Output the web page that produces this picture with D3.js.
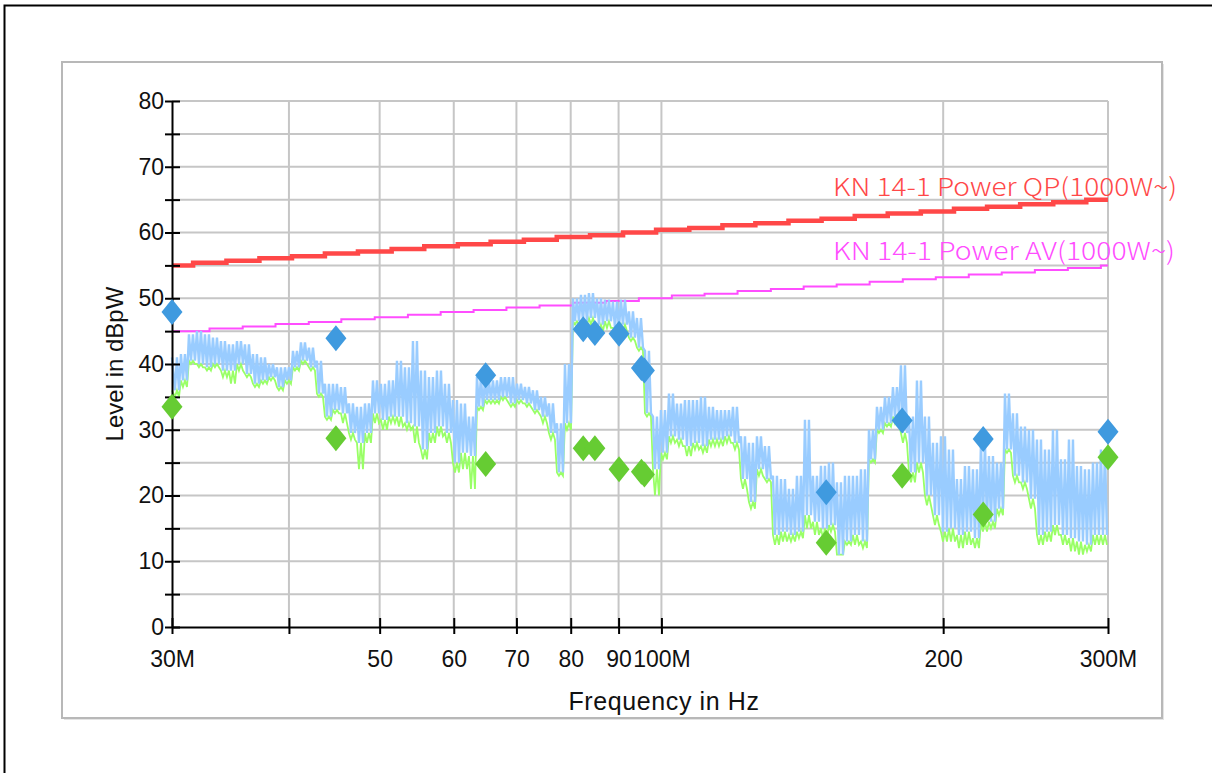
<!DOCTYPE html>
<html>
<head>
<meta charset="utf-8">
<script src="https://cdn.jsdelivr.net/npm/d3@7"></script>
<style>
body { margin: 0; background: #fff; }
svg { display: block; }
</style>
</head>
<body>
<div id="grafica"></div>
<script>
// axis ticks
const xTicks = [30, 40, 50, 60, 70, 80, 90, 100, 200, 300]
const xTickLabels = ['30M', '', '50', '60', '70', '80', '90', '100M', '200', '300M']
const yTicks = [0, 5, 10, 15, 20, 25, 30, 35, 40, 45, 50, 55, 60, 65, 70, 75, 80]

// limit lines (stairs), MHz / dBpW
const qpFreq = [30, 31.6, 34.3, 37.2, 40.3, 43.7, 47.4, 51.5, 55.8, 60.6, 65.7, 71.3, 77.3, 83.9, 91.0,
    98.7, 107.1, 116.2, 126.0, 136.7, 148.3, 160.9, 174.5, 189.3, 205.4, 222.8, 241.7, 262.2, 284.4]
const qpLimit = [55, 55.4, 55.7, 56.1, 56.4, 56.8, 57.1, 57.5, 57.9, 58.2, 58.6, 58.9, 59.3, 59.6, 60,
    60.4, 60.7, 61.1, 61.4, 61.8, 62.1, 62.5, 62.9, 63.2, 63.6, 63.9, 64.3, 64.6, 65]
const avFreq = [30, 32.9, 35.7, 38.7, 42.0, 45.5, 49.4, 53.6, 58.1, 63.0, 68.3, 74.1, 80.4, 87.2, 94.6,
    102.6, 111.2, 120.6, 130.9, 141.9, 153.9, 166.9, 181.1, 196.4, 213.0, 231.0, 250.6, 271.8, 294.8]
const avLimit = [45, 45.4, 45.7, 46.1, 46.4, 46.8, 47.1, 47.5, 47.9, 48.2, 48.6, 48.9, 49.3, 49.6, 50,
    50.4, 50.7, 51.1, 51.4, 51.8, 52.1, 52.5, 52.9, 53.2, 53.6, 53.9, 54.3, 54.6, 55]

// sweep 30M..300M, one max/min pair per bin (bins of equal log width)
const blueHi = [
    41, 41.5, 44.5, 45, 44.5, 44, 43.5, 43, 43.5, 43,
    41.5, 41, 40, 39.5, 39.5, 42, 43.3, 42.5, 40.5, 37,
    37, 36.5, 34, 33.5, 34, 37.5, 37, 37.5, 40.5, 39.5,
    43.5, 39, 38, 39, 37, 34.5, 34, 32, 38, 37.5,
    37.5, 38, 38, 37, 36.5, 36, 35, 34, 31, 40,
    50, 50.5, 50.8, 50, 49.8, 49.5, 49.8, 48, 47, 42,
    32, 33, 35.5, 34, 34.5, 34.5, 35, 33.5, 33, 33,
    33.5, 29, 28, 29, 27.5, 23, 22.5, 21, 23, 31.5,
    23, 24.5, 25, 22, 23, 23, 24, 30, 33.5, 35,
    36.5, 39.8, 32, 37.5, 32, 28, 29, 27, 22.5, 24.5,
    24, 28, 26, 25, 35.5, 32.5, 30.5, 30, 28.5, 27,
    30, 25.5, 28.5, 24.5, 24, 25, 27]
const blueLo = [
    36, 37.5, 40.5, 40, 39.5, 40, 39, 39, 40, 38.5,
    37, 37.5, 38, 36.5, 37.5, 39.5, 40.5, 39.5, 35.5, 32,
    33, 32.5, 29.5, 28, 29.5, 32.5, 31.5, 32, 32, 31,
    30.5, 27, 29.5, 30.5, 29.5, 25, 26.5, 26, 33.5, 34.5,
    34.5, 35, 34, 34.5, 34, 33, 32, 29.5, 23.5, 31,
    46.5, 46.5, 47, 46, 46.5, 45.5, 46, 44, 42.5, 32.5,
    24, 26.5, 29, 28.5, 27.5, 28, 27.5, 28.5, 28.5, 29,
    28, 22.5, 19, 24, 22.5, 14, 14.5, 14, 14.5, 17,
    16, 15, 15.5, 11, 13, 14, 13, 25.5, 30, 31,
    32, 29.5, 23.5, 25, 20, 17, 14.5, 15, 14, 14.5,
    13.5, 16, 16, 18, 27, 23, 22, 19.5, 14, 14.5,
    15.5, 14, 13.5, 13, 12.5, 14, 14]
const greenLo = [
    35, 36.5, 40, 39.5, 39, 39.5, 38, 37, 39, 38,
    36.5, 37, 37.5, 36, 37, 39, 40, 39, 35, 31.5,
    32.5, 31, 28.5, 24, 28, 31, 30, 31, 30.5, 30,
    28, 25.5, 28, 29, 28, 23.5, 24, 21, 33, 34,
    34, 34.5, 33.5, 34, 33.5, 32.5, 31, 28.5, 23, 30,
    46, 46, 46, 45, 45.5, 45, 45, 43.5, 42, 32,
    20, 25.5, 28, 27.5, 26, 27, 26.5, 27.5, 27.5, 28,
    27, 21, 18, 23, 22, 12.5, 13, 13, 13.5, 15,
    14, 13.5, 14.5, 11, 12.5, 12.5, 12, 25, 29.5, 30.5,
    31, 28, 22, 23.5, 18.5, 15.5, 13, 13, 12, 12.5,
    12, 14.5, 15, 17, 26.5, 22, 21, 18, 12.5, 13,
    14, 12.5, 11.5, 11, 11.5, 12.5, 12.5]

// final measurements
const peakFreq = [30, 44.9, 64.9, 82.5, 84.9, 90.1, 95.2, 95.9, 150, 180.8, 220.7, 300]
const qpPeak = [47.9, 43.9, 38.3, 45.3, 44.7, 44.6, 39.4, 39.0, 20.5, 31.4, 28.6, 29.7]
const avPeak = [33.5, 28.7, 24.8, 27.2, 27.2, 24.0, 23.6, 23.2, 12.8, 23.0, 17.1, 25.8]

const svgWidth = 1212
const svgHeight = 773
const margin = { top: 101, left: 172 }
const chartWidth = 936
const chartHeight = 526
const font = '"Liberation Sans", Arial, sans-serif'

const scaleX = d3.scaleLog().domain([30, 300]).range([0, chartWidth])
const scaleY = d3.scaleLinear().domain([0, 80]).range([chartHeight, 0])

const svg = d3.select('#grafica')
    .append('svg')
    .attr('width', svgWidth)
    .attr('height', svgHeight)

// outer frame
svg.append('rect')
    .attr('x', 4.5).attr('y', 5.5)
    .attr('width', 1300).attr('height', 900)
    .style('fill', 'none').style('stroke', '#000').style('stroke-width', 2)

// panel with shadow
svg.append('rect')
    .attr('x', 64).attr('y', 64).attr('width', 1100).attr('height', 656)
    .style('fill', '#e4e4e4')
svg.append('rect')
    .attr('x', 62).attr('y', 62).attr('width', 1100).attr('height', 656)
    .style('fill', '#fff').style('stroke', '#b8b8b8').style('stroke-width', 2)

const g = svg.append('g')
    .attr('transform', `translate(${margin.left},${margin.top})`)

// grid
g.selectAll('.hgrid')
    .data(yTicks.filter(d => d > 0))
    .enter().append('line')
    .attr('x1', 0).attr('x2', chartWidth)
    .attr('y1', d => scaleY(d)).attr('y2', d => scaleY(d))
    .style('stroke', '#c6c6c6').style('stroke-width', 2)

g.selectAll('.vgrid')
    .data(xTicks.filter(d => d > 30))
    .enter().append('line')
    .attr('x1', d => scaleX(d)).attr('x2', d => scaleX(d))
    .attr('y1', 0).attr('y2', chartHeight)
    .style('stroke', '#c6c6c6').style('stroke-width', 2)

// limit lines
const stair = d3.line()
    .x(d => scaleX(d[0]))
    .y(d => scaleY(d[1]))
    .curve(d3.curveStepAfter)

const qpPts = qpFreq.map((f, i) => [f, qpLimit[i]]).concat([[300, qpLimit[qpLimit.length - 1]]])
const avPts = avFreq.map((f, i) => [f, avLimit[i]]).concat([[300, avLimit[avLimit.length - 1]]])

g.append('path').attr('d', stair(avPts))
    .style('fill', 'none').style('stroke', '#ff4dff').style('stroke-width', 2)
g.append('path').attr('d', stair(qpPts))
    .style('fill', 'none').style('stroke', '#ff4848').style('stroke-width', 4.5)

// traces: dense zigzag through each bin's max and min (sweeps twice per bin)
const bins = blueHi.length
const binFreq = t => 30 * Math.pow(10, Math.max(0, t) / bins)
const line = d3.line().x(d => scaleX(d[0])).y(d => scaleY(d[1]))

const greenPts = []
const bluePts = []
for (let i = 0; i < bins; i++) {
    const steps = [0, 0.25, 0.5, 0.75]
    steps.forEach((s, k) => {
        const f = binFreq(i + s + 0.12)
        if (k % 2 === 0) {
            bluePts.push([f, blueHi[i]])
            greenPts.push([f, blueLo[i]])
        } else {
            bluePts.push([f, blueLo[i]])
            greenPts.push([f, greenLo[i]])
        }
    })
}
bluePts[0][0] = 30
greenPts[0][0] = 30

g.append('path').attr('d', line(greenPts))
    .style('fill', 'none').style('stroke', '#99ff66').style('stroke-width', 1.8)
g.append('path').attr('d', line(bluePts))
    .style('fill', 'none').style('stroke', '#99ccff').style('stroke-width', 2.4)
    .style('stroke-linejoin', 'bevel')

// axes
const axisX = d3.axisBottom(scaleX)
    .tickValues(xTicks)
    .tickFormat((d, i) => xTickLabels[i])
    .tickSize(7).tickSizeOuter(0).tickPadding(17)
const axisY = d3.axisLeft(scaleY)
    .tickValues(yTicks)
    .tickFormat(d => d % 10 === 0 ? d : '')
    .tickSize(7).tickSizeOuter(0).tickPadding(1)

const gx = g.append('g')
    .attr('transform', `translate(0,${chartHeight})`)
    .call(axisX)
gx.selectAll('line').attr('y1', -9).style('stroke-width', 2)
gx.select('.domain').style('stroke-width', 2)

const gy = g.append('g').call(axisY)
gy.selectAll('line').attr('x1', 8).style('stroke-width', 2)
gy.select('.domain').style('stroke-width', 2)

svg.selectAll('.tick text')
    .style('font-family', font).style('font-size', '23px').style('fill', '#111')

// final measurement diamonds
const diamond = 'M0,-13L10.5,0L0,13L-10.5,0Z'
g.selectAll('.av')
    .data(peakFreq)
    .enter().append('path')
    .attr('d', diamond)
    .attr('transform', (d, i) => `translate(${scaleX(d)},${scaleY(avPeak[i])})`)
    .style('fill', '#66cc33')
g.selectAll('.qp')
    .data(peakFreq)
    .enter().append('path')
    .attr('d', diamond)
    .attr('transform', (d, i) => `translate(${scaleX(d)},${scaleY(qpPeak[i])})`)
    .style('fill', '#3f9adf')

// limit labels
svg.append('text')
    .attr('x', 833).attr('y', 196)
    .attr('textLength', 344).attr('lengthAdjust', 'spacingAndGlyphs')
    .style('font-family', '"Noto Sans CJK KR", sans-serif').style('font-weight', 300)
    .style('font-size', '25px').style('fill', '#ff4848')
    .text('KN 14-1 Power QP(1000W~)')
svg.append('text')
    .attr('x', 833).attr('y', 260)
    .attr('textLength', 342).attr('lengthAdjust', 'spacingAndGlyphs')
    .style('font-family', '"Noto Sans CJK KR", sans-serif').style('font-weight', 300)
    .style('font-size', '25px').style('fill', '#ff4dff')
    .text('KN 14-1 Power AV(1000W~)')

// axis titles
svg.append('text')
    .attr('x', 664).attr('y', 710)
    .attr('text-anchor', 'middle')
    .style('font-family', font).style('font-size', '25px').style('fill', '#111')
    .style('letter-spacing', '0.6px')
    .text('Frequency in Hz')
svg.append('text')
    .attr('transform', 'translate(123,364) rotate(-90)')
    .attr('text-anchor', 'middle')
    .style('font-family', font).style('font-size', '24px').style('fill', '#111')
    .text('Level in dBpW')
</script>
</body>
</html>
